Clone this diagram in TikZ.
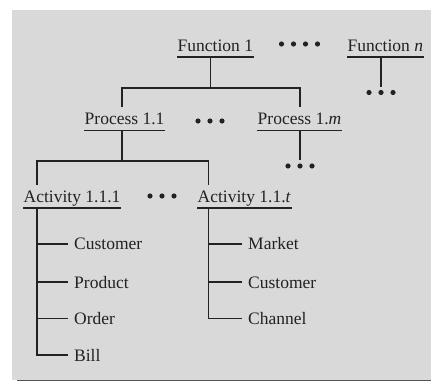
\documentclass[tikz,border=0pt]{standalone}
\usepackage{fontspec}
\setmainfont{Liberation Serif}
\usetikzlibrary{calc}
\definecolor{panel}{HTML}{D9D9D9}
\definecolor{ink}{HTML}{222222}
\definecolor{rule}{HTML}{555555}
\begin{document}
\begin{tikzpicture}[x=1pt,y=-1pt,
  lbl/.style={anchor=base west, inner xsep=0.5pt, inner ysep=5.5pt,
    text height=12pt, text depth=0pt, text=ink,
    font=\fontsize{17.5}{20}\selectfont},
  leaf/.style={anchor=west, inner xsep=6pt, inner ysep=0pt,
    text height=12pt, text depth=0pt, text=ink,
    font=\fontsize{17.5}{20}\selectfont},
  uline/.style={draw=ink, line width=1.6pt},
  link/.style={draw=ink, line width=1.6pt},
  dotfill/.style={fill=ink}]

% page and grey panel
\useasboundingbox (0,0) rectangle (431,382);
\fill[white] (0,0) rectangle (431,382);
\fill[panel] (11.5,10) rectangle (431,379.5);
\draw[rule, line width=1.6pt] (17,380.5) -- (431,380.5);

% headings
\node[lbl] (f1)  at (177,51.5)  {Function 1};
\node[lbl] (fn)  at (347,51.5)  {Function \textit{n}};
\node[lbl] (p11) at (84,125)    {Process 1.1};
\node[lbl] (p1m) at (257,125)   {Process 1.\textit{m}};
\node[lbl] (a1)  at (23,202.5)  {Activity 1.1.1};
\node[lbl] (at)  at (197,202.5) {Activity 1.1.\textit{t}};

\foreach \n in {f1,fn,p11,p1m,a1,at}
  \draw[uline] (\n.south west) -- (\n.south east);

% leaves
\node[leaf] (c1) at (68,244)   {Customer};
\node[leaf] (pr) at (68,282)   {Product};
\node[leaf] (or) at (68,318.5) {Order};
\node[leaf] (bi) at (68,355)   {Bill};
\node[leaf] (mk) at (242,244)   {Market};
\node[leaf] (c2) at (242,282)   {Customer};
\node[leaf] (ch) at (242,318.5) {Channel};

% junction points of the tree
\coordinate (f1j)  at (210.5,88);
\coordinate (p11x) at (122,0);
\coordinate (p1mx) at (300,0);
\coordinate (p11j) at (122,161);
\coordinate (a1x)  at (37,0);
\coordinate (atx)  at (208.5,0);
\coordinate (fnx)  at (381,0);

% Function 1 -> processes
\draw[link] (f1.south -| f1j) -- (f1j);
\draw[link] (p11.north -| p11x) |- (f1j) -| (p1m.north -| p1mx);

% Process 1.1 -> activities
\draw[link] (p11.south -| p11x) -- (p11j);
\draw[link] (a1.north -| a1x) |- (p11j) -| (at.north -| atx);

% Activity 1.1.1 -> its entities
\draw[link] (a1.south -| a1x) |- (bi.west);
\foreach \n in {c1,pr,or}
  \draw[link] (\n.west -| a1x) -- (\n.west);

% Activity 1.1.t -> its entities
\draw[link] (at.south -| atx) |- (ch.west);
\foreach \n in {mk,c2}
  \draw[link] (\n.west -| atx) -- (\n.west);

% continuation dots
\coordinate (fndots)  at (381,92.5);
\coordinate (p1mdots) at (300,166);
\draw[link] (fn.south -| fnx) -- ($(fndots)+(0,-5.5)$);
\draw[link] (p1m.south -| p1mx) -- ($(p1mdots)+(0,-6)$);
\foreach \dx in {-12,0,12} {
  \fill[dotfill] ($(fndots)+(\dx,0)$) circle (2.6);
  \fill[dotfill] ($(p1mdots)+(\dx,0)$) circle (2.6);
  \fill[dotfill] (210+\dx,121) circle (2.6);
  \fill[dotfill] (162+\dx,196) circle (2.6);
}
\foreach \x in {281.5,293.5,305.5,317.5}
  \fill[dotfill] (\x,44) circle (2.6);

\end{tikzpicture}
\end{document}
